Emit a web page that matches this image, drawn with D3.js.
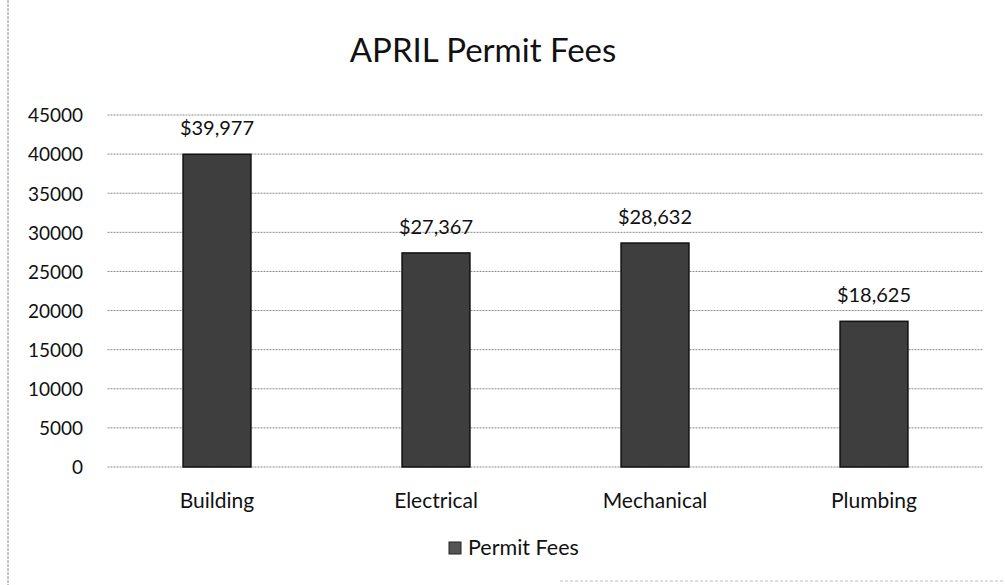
<!DOCTYPE html>
<html><head><meta charset="utf-8">
<script src="https://cdn.jsdelivr.net/npm/d3@7"></script>
<style>body{margin:0;background:#fff;} svg{display:block;}</style>
</head><body>
<svg id="chart" width="1005" height="585"></svg>
<script>
const categories = ["Building", "Electrical", "Mechanical", "Plumbing"];
const values = [39977, 27367, 28632, 18625];
const tickValues = [0, 5000, 10000, 15000, 20000, 25000, 30000, 35000, 40000, 45000];
const seriesName = "Permit Fees";
const title = "APRIL Permit Fees";

(function () {
const svg = d3.select("#chart");
const font = "Lato, 'Open Sans', sans-serif";
const pLeft = 107.5, pRight = 983.5, pTop = 115, pBottom = 467;

const x = d3.scaleBand().domain(categories).range([pLeft, pRight]).paddingInner(0.69).paddingOuter(0.345);
const y = d3.scaleLinear().domain([0, 45000]).range([pBottom, pTop]);

svg.append("line").attr("x1", 8).attr("x2", 8).attr("y1", 0).attr("y2", 585)
  .attr("stroke", "#888").attr("stroke-width", 1).attr("stroke-dasharray", "3,1");
svg.append("line").attr("x1", 560).attr("x2", 1005).attr("y1", 581).attr("y2", 581)
  .attr("stroke", "#bbb").attr("stroke-width", 1).attr("stroke-dasharray", "3,2");

svg.append("text").attr("x", 483).attr("y", 62).attr("text-anchor", "middle")
  .attr("font-family", font).attr("font-size", 33).attr("fill", "#111").text(title);

svg.append("g").selectAll("line").data(tickValues).join("line")
  .attr("x1", pLeft).attr("x2", pRight)
  .attr("y1", d => y(d)).attr("y2", d => y(d))
  .attr("stroke", "#8a8a8a").attr("stroke-width", 1).attr("stroke-dasharray", "2,1");

const yAxis = d3.axisLeft(y).tickValues(tickValues).tickSize(0).tickPadding(0).tickFormat(d3.format("d"));
const ya = svg.append("g").attr("transform", "translate(83,0)").call(yAxis);
ya.select(".domain").remove();
ya.selectAll("text").attr("font-family", font).attr("font-size", 19).attr("fill", "#111").attr("dy", "0.36em");

svg.append("g").selectAll("rect").data(values).join("rect")
  .attr("x", (d, i) => x(categories[i])).attr("width", x.bandwidth())
  .attr("y", d => y(d)).attr("height", d => y(0) - y(d))
  .attr("fill", "#3e3e3e").attr("stroke", "#111").attr("stroke-width", 1.5);

svg.append("g").selectAll("text").data(values).join("text")
  .attr("x", (d, i) => x(categories[i]) + x.bandwidth() / 2)
  .attr("y", d => y(d) - 19)
  .attr("text-anchor", "middle").attr("font-family", font).attr("font-size", 20).attr("fill", "#111")
  .text(d => "$" + d3.format(",")(d));

const xAxis = d3.axisBottom(x).tickSize(0).tickPadding(0);
const xa = svg.append("g").attr("transform", "translate(0,508)").call(xAxis);
xa.select(".domain").remove();
xa.selectAll("text").attr("font-family", font).attr("font-size", 21).attr("fill", "#111").attr("dy", "0");

const lg = svg.append("g").attr("transform", "translate(449,555)");
lg.append("rect").attr("x", 0).attr("y", -13).attr("width", 12).attr("height", 12).attr("fill", "#555").attr("stroke", "#222");
lg.append("text").attr("x", 19).attr("y", 0).attr("font-family", font).attr("font-size", 21.5).attr("fill", "#111").text(seriesName);
})();
</script>
</body></html>
